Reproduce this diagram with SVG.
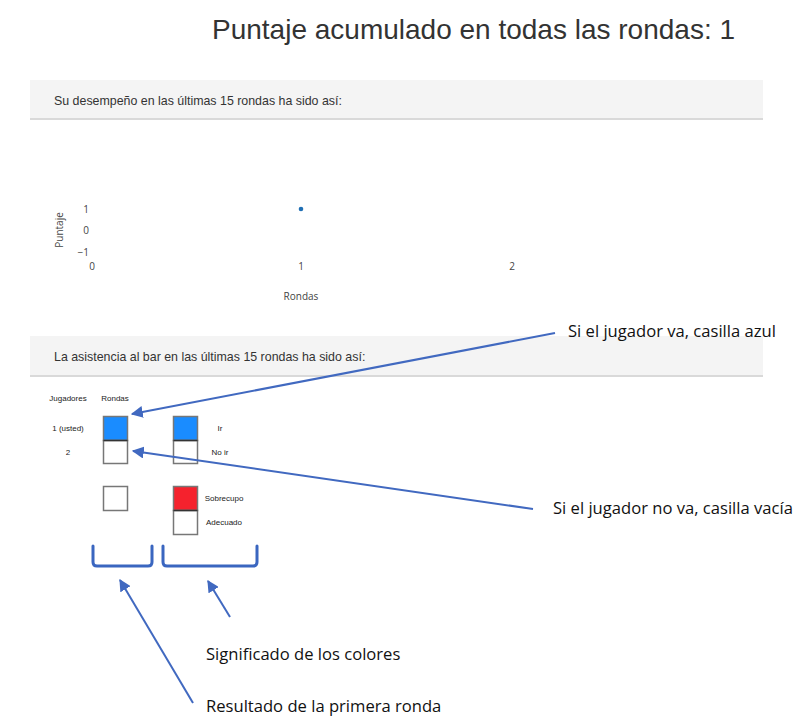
<svg xmlns="http://www.w3.org/2000/svg" width="810" height="728" viewBox="0 0 810 728">
<style>
.ui{font-family:"Liberation Sans",Arial,sans-serif;fill:#333}
.ax{font-family:"Open Sans","DejaVu Sans",sans-serif;fill:#444;font-size:10px}
.sm{font-family:"Liberation Sans",Arial,sans-serif;fill:#222;font-size:8px;text-anchor:middle}
.note{font-family:"Open Sans","Liberation Sans",sans-serif;fill:#111;font-size:16.6px}
.band{fill:#f4f4f4}
.shadow{stroke:#d9d9d9;stroke-width:2}
.box{stroke:#777;stroke-width:1.5;fill:#fff}
.conn{stroke:#4169c0;stroke-width:2;fill:none}
.brk{stroke:#3a66c0;stroke-width:3;fill:none;stroke-linecap:round;stroke-linejoin:round}
</style>
<defs>
<marker id="ah" viewBox="0 0 10 10" refX="9" refY="5" markerWidth="6" markerHeight="6" markerUnits="strokeWidth" orient="auto">
<path d="M0,0 L10,5 L0,10 z" fill="#4169c0"/>
</marker>
</defs>
<rect width="810" height="728" fill="#fff"/>
<g id="title"><text class="ui" x="212" y="39" font-size="28">Puntaje acumulado en todas las rondas: 1</text></g>
<g id="panel1">
<rect class="band" x="30" y="80" width="733" height="38"/>
<line class="shadow" x1="30" y1="119" x2="763" y2="119"/>
<text class="ui" x="54" y="105" font-size="12.4">Su desempeño en las últimas 15 rondas ha sido así:</text>
</g>
<g id="plot">
<text class="ax" x="89" y="213" text-anchor="end">1</text>
<text class="ax" x="89" y="234" text-anchor="end">0</text>
<text class="ax" x="89" y="256" text-anchor="end">−1</text>
<text class="ax" x="92" y="270" text-anchor="middle">0</text>
<text class="ax" x="301" y="270" text-anchor="middle">1</text>
<text class="ax" x="512" y="270" text-anchor="middle">2</text>
<text class="ax" x="301" y="300" text-anchor="middle" font-size="12">Rondas</text>
<text class="ax" transform="translate(63,230) rotate(-90)" text-anchor="middle" font-size="12">Puntaje</text>
<circle cx="301" cy="209" r="2.3" fill="#1f6fb4"/>
</g>
<g id="panel2">
<rect class="band" x="30" y="336" width="733" height="39"/>
<line class="shadow" x1="30" y1="376" x2="763" y2="376"/>
<text class="ui" x="54" y="361" font-size="12.4">La asistencia al bar en las últimas 15 rondas ha sido así:</text>
</g>
<g id="grid">
<text class="sm" x="68" y="401">Jugadores</text>
<text class="sm" x="115" y="401">Rondas</text>
<text class="sm" x="68" y="431">1 (usted)</text>
<text class="sm" x="68" y="455">2</text>
<rect class="box" x="103.5" y="416.5" width="24" height="24" style="fill:#1a8cff"/>
<rect class="box" x="103.5" y="440.5" width="24" height="23"/>
<line x1="103.5" y1="440.5" x2="127.5" y2="440.5" stroke="#333" stroke-width="1.5"/>
<rect class="box" x="103.5" y="486.5" width="24" height="24"/>
</g>
<g id="legend">
<rect class="box" x="173.5" y="416.5" width="24" height="24" style="fill:#1a8cff"/>
<rect class="box" x="173.5" y="440.5" width="24" height="23"/>
<line x1="173.5" y1="440.5" x2="197.5" y2="440.5" stroke="#333" stroke-width="1.5"/>
<text class="sm" x="220" y="431">Ir</text>
<text class="sm" x="220" y="455">No ir</text>
<rect class="box" x="173.5" y="486.5" width="24" height="24" style="fill:#f5222d"/>
<rect class="box" x="173.5" y="510.5" width="24" height="24"/>
<line x1="173.5" y1="510.5" x2="197.5" y2="510.5" stroke="#333" stroke-width="1.5"/>
<text class="sm" x="224" y="501">Sobrecupo</text>
<text class="sm" x="224" y="525">Adecuado</text>
</g>
<g id="brackets">
<path class="brk" d="M93,546 V562 Q93,566 97,566 H148 Q152,566 152,562 V546"/>
<path class="brk" d="M163,546 V562 Q163,566 167,566 H253 Q257,566 257,562 V546"/>
</g>
<g id="connectors">
<line class="conn" x1="555" y1="333" x2="132" y2="414" marker-end="url(#ah)"/>
<line class="conn" x1="533" y1="509" x2="133" y2="451" marker-end="url(#ah)"/>
<line class="conn" x1="193" y1="703" x2="120" y2="580" marker-end="url(#ah)"/>
<line class="conn" x1="230" y1="617" x2="208" y2="581" marker-end="url(#ah)"/>
</g>
<g id="notes">
<text class="note" x="568" y="337">Si el jugador va, casilla azul</text>
<text class="note" x="553" y="514">Si el jugador no va, casilla vacía</text>
<text class="note" x="206" y="660">Significado de los colores</text>
<text class="note" x="206" y="712">Resultado de la primera ronda</text>
</g>
</svg>
